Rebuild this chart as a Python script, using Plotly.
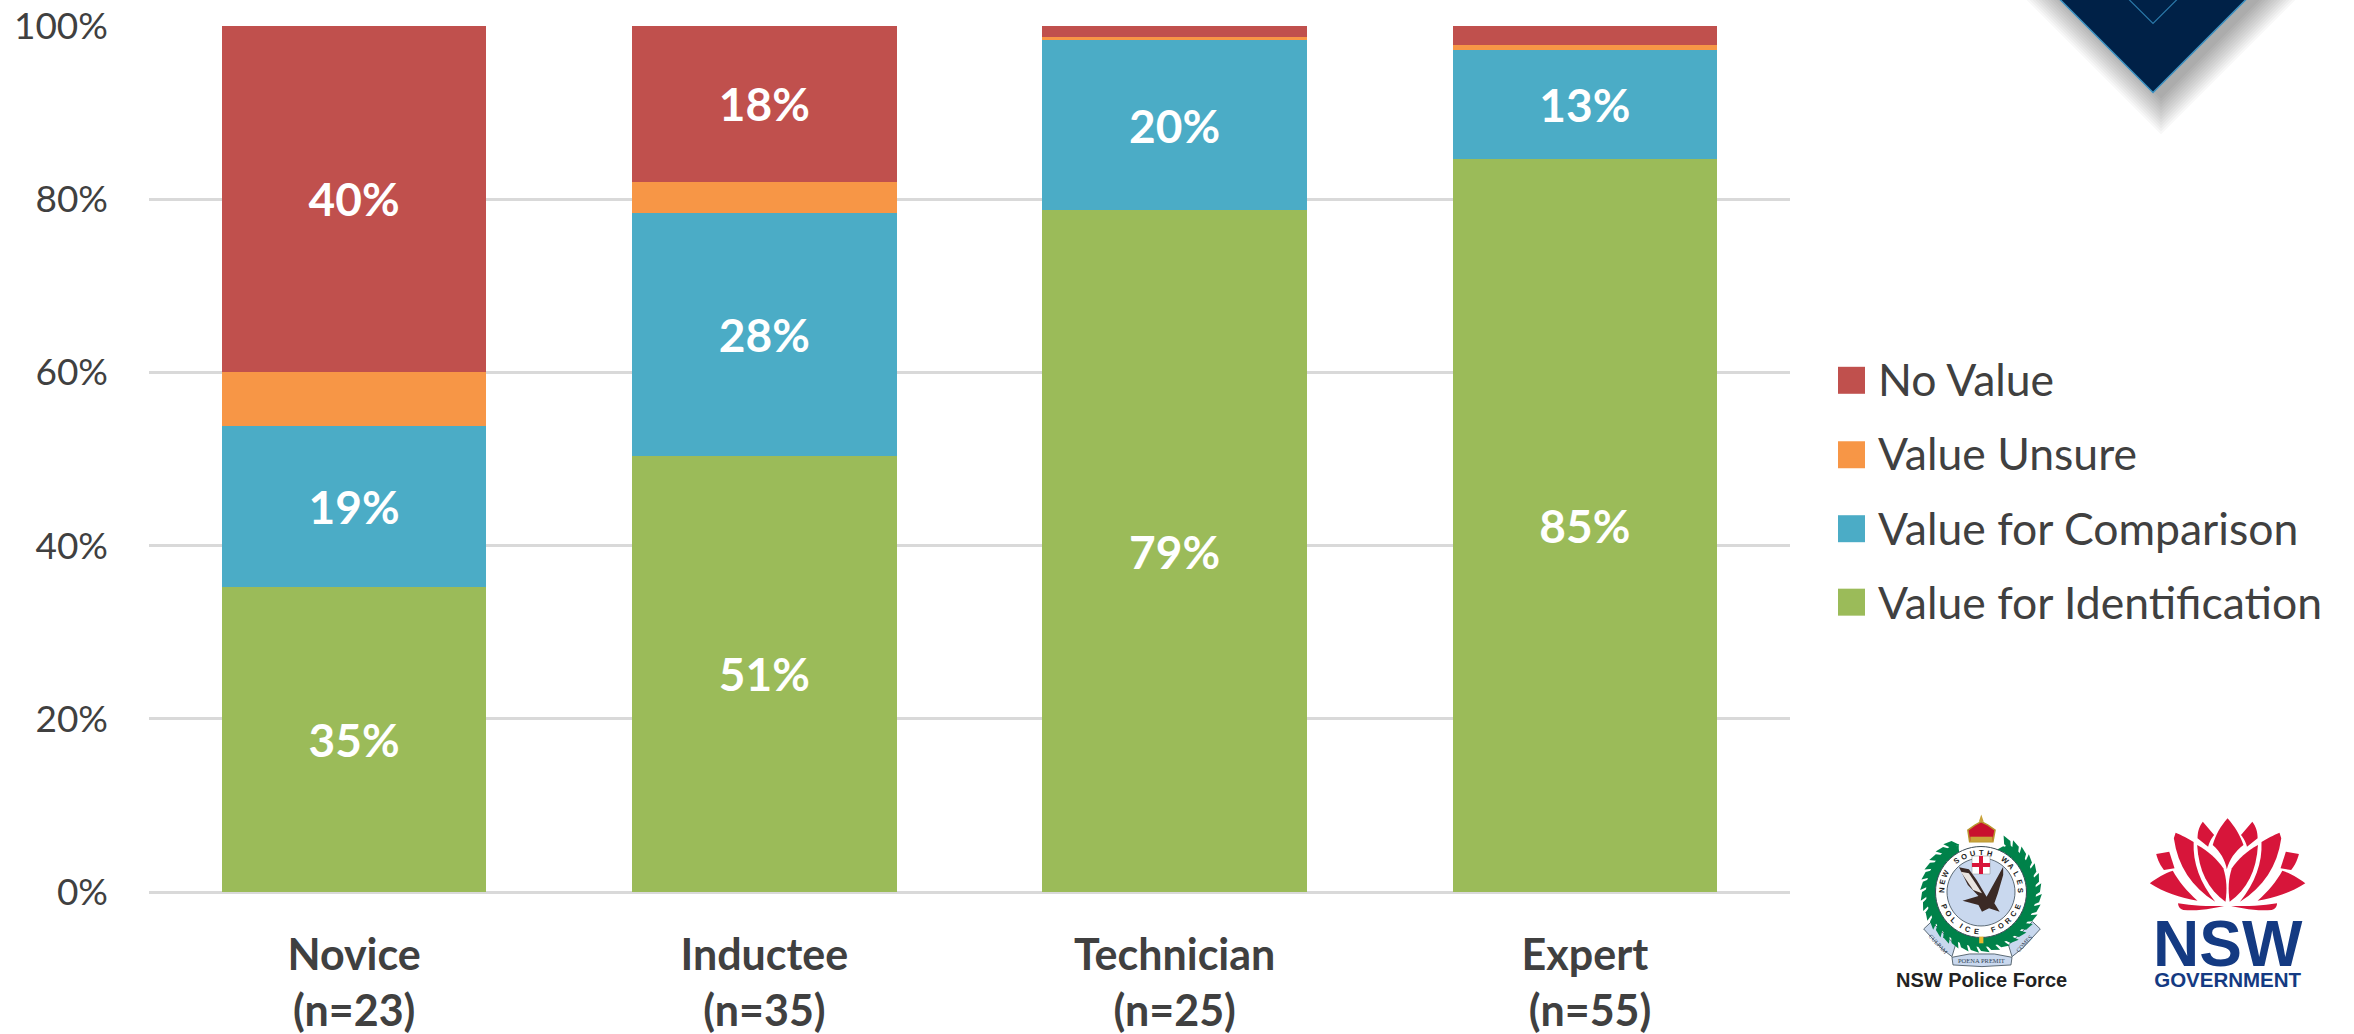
import math
import plotly.graph_objects as go

categories = ["Novice<br>(n=23)", "Inductee<br>(n=35)", "Technician<br>(n=25)", "Expert<br> (n=55)"]
identification = [35.2, 50.4, 78.7, 84.7]
comparison = [18.6, 28.0, 19.7, 12.5]
unsure = [6.3, 3.6, 0.3, 0.6]
no_value = [39.9, 18.0, 1.3, 2.2]
identification_labels = ["35%", "51%", "79%", "85%"]
comparison_labels = ["19%", "28%", "20%", "13%"]
unsure_labels = ["", "", "", ""]
no_value_labels = ["40%", "18%", "", ""]
y_ticks = [0, 20, 40, 60, 80, 100]
y_tick_labels = ["0%", "20%", "40%", "60%", "80%", "100%"]

GREEN, BLUE, ORANGE, RED = "#9BBB59", "#4BACC6", "#F79646", "#C0504D"
INK = "#404040"
W, H = 2354, 1034
L, R, T, B = 149, 1790, 25.5, 892


def px(x, y):
    return (x - L) / (R - L), (B - y) / (B - T)


def path(points, close=True):
    out = []
    for i, p in enumerate(points):
        a, b = px(*p)
        out.append(("M" if i == 0 else "L") + f"{a:.5f},{b:.5f}")
    return " ".join(out) + (" Z" if close else "")


def z(X, Y):
    """logo sketch coordinates to page pixels"""
    return 1800 + X / 2.83, 780 + Y / 3


def bez(pts, n=8):
    """points: start, then (ctrl, end) pairs; straight segment if ctrl is None"""
    out = [pts[0]]
    cur = pts[0]
    for c, e in pts[1:]:
        if c is None:
            out.append(e)
        else:
            for i in range(1, n + 1):
                t = i / n
                out.append(((1 - t) ** 2 * cur[0] + 2 * t * (1 - t) * c[0] + t * t * e[0],
                            (1 - t) ** 2 * cur[1] + 2 * t * (1 - t) * c[1] + t * t * e[1]))
        cur = e
    return out


shapes = []
annos = []


def poly(points, fill, line=None, lw=0, opacity=1, close=True):
    shapes.append(dict(type="path", xref="paper", yref="paper", path=path(points, close),
                       fillcolor=fill if close else "rgba(0,0,0,0)", opacity=opacity, layer="above",
                       line=dict(color=line or "rgba(0,0,0,0)", width=lw)))


def circle(cx, cy, r, fill, line=None, lw=0, ry=None):
    ry = ry or r
    pts = [(cx + r * math.cos(i * math.pi / 30), cy + ry * math.sin(i * math.pi / 30)) for i in range(60)]
    poly(pts, fill, line, lw)


def text(x, y, s, size, color, bold=False, angle=0, family="Liberation Sans"):
    a, b = px(x, y)
    annos.append(dict(xref="paper", yref="paper", x=a, y=b, text=f"<b>{s}</b>" if bold else s, showarrow=False,
                      xanchor="center", yanchor="middle", textangle=angle,
                      font=dict(family=family, size=size, color=color)))


# top badge with soft shadow
tip = (2153, 92)
for i in range(13, 0, -1):
    d = i * 3.0
    ax, ay = tip[0] + 8, tip[1] + 3 + d
    hw = ay + 5
    poly([(ax - hw, -5), (ax, ay), (ax + hw, -5)], "#000000", opacity=0.028)
poly([(tip[0] - 97, -5), tip, (tip[0] + 97, -5)], "#002147", line="#3E93C2", lw=1.5)
poly([(tip[0] - 28, -5), (tip[0], 23), (tip[0] + 28, -5)], "#002147", line="#2A78A8", lw=1.2)

# NSW Government waratah
CR = "#D7153A"
petals = [
    bez([(1140, 125), (None, (1172, 165)), ((1160, 180), (1155, 200)), (None, (1125, 175)), ((1125, 145), (1140, 125))]),
    bez([(1063, 158), ((1090, 170), (1114, 186)), ((1110, 280), (1175, 365)), ((1075, 300), (1058, 175)), (None, (1063, 158))]),
    bez([(1124, 195), ((1170, 222), (1198, 265)), ((1212, 310), (1204, 365)), ((1130, 310), (1124, 195))]),
    bez([(1008, 222), (None, (1045, 215)), (None, (1060, 265)), (None, (1030, 270)), ((1015, 250), (1008, 222))]),
    bez([(990, 310), ((1020, 285), (1055, 272)), ((1080, 320), (1125, 362)), ((1050, 350), (990, 310))]),
    bez([(1070, 370), ((1130, 380), (1200, 378)), ((1130, 395), (1085, 390)), ((1070, 385), (1070, 370))]),
]
for p in petals:
    poly([z(*q) for q in p], CR)
    poly([z(2420 - q[0], q[1]) for q in p], CR)
centre = bez([(1210, 115), ((1240, 150), (1255, 195)), ((1218, 225), (1208, 268)), ((1200, 225), (1168, 195)), ((1180, 150), (1210, 115))])
poly([z(*q) for q in centre], CR)
text(2228, 950, '<span style="font-size:64px">NSW</span><br><span style="font-size:20.5px">GOVERNMENT</span>',
     16, "#143A82", bold=True)

# NSW Police Force crest
cx, cy = 1981, 892
# scroll
for pts in ([(350, 447), (372, 425), (440, 495), (430, 530), (400, 505)],
            [(680, 447), (658, 425), (590, 495), (600, 530), (630, 505)],
            [(430, 532), (480, 522), (550, 522), (600, 532), (597, 555), (515, 560), (433, 555)]):
    poly([z(*q) for q in pts], "#C9D8EE", line="#3A4A55", lw=0.8)
# wreath: solid band with leaves on its rim
arc = [math.radians(d) for d in range(-62, 243, 4)]
poly([(cx + 55 * math.cos(a), cy + 55 * math.sin(a)) for a in arc] +
     [(cx + 46 * math.cos(a), cy + 46 * math.sin(a)) for a in reversed(arc)], "#00824A")
for deg in list(range(-62, 243, 10)):
    a = math.radians(deg)
    for rr, skew in ((56, 0.6), (48, -0.6)):
        c = (cx + rr * math.cos(a), cy + rr * math.sin(a))
        dirn = a + math.pi / 2 + skew
        ux, uy = math.cos(dirn), math.sin(dirn)
        nx, ny = -uy, ux
        poly([(c[0] - 8 * ux, c[1] - 8 * uy), (c[0] + 3.5 * nx, c[1] + 3.5 * ny), (c[0] + 8 * ux, c[1] + 8 * uy),
              (c[0] - 3.5 * nx, c[1] - 3.5 * ny)], "#00824A")
circle(cx, cy, 45.5, "#FFFFFF", line="#3A4A55", lw=1)
circle(cx, cy, 34, "#C9D8EE", line="#3A4A55", lw=0.8)
# top cross
poly([(cx - 9, 856), (cx + 9, 856), (cx + 9, 874), (cx - 9, 874)], "#FFFFFF", line="#888888", lw=0.5)
poly([(cx - 9, 863), (cx + 9, 863), (cx + 9, 867), (cx - 9, 867)], "#D7153A")
poly([(cx - 2, 856), (cx + 2, 856), (cx + 2, 874), (cx - 2, 874)], "#D7153A")
# eagle
poly([z(*q) for q in [(450, 262), (478, 268), (500, 300), (528, 350), (575, 260), (575, 285), (560, 340), (550, 370),
                      (565, 395), (535, 385), (515, 395), (505, 375), (460, 362), (505, 348), (475, 315)]], "#3B2A25")
poly([z(*q) for q in [(455, 275), (478, 280), (500, 315), (515, 340), (490, 330)]], "#E9E4DF")
# crown
poly([z(*q) for q in [(480, 185), (475, 150), (495, 135), (513, 125), (532, 135), (552, 150), (546, 185)]], "#C8102E", line="#B8962E", lw=1.5)
poly([z(*q) for q in [(506, 125), (513, 103), (520, 125)]], "#C9A33A")
poly([z(*q) for q in [(482, 170), (545, 170), (545, 185), (482, 185)]], "#C9A33A")
poly([z(*q) for q in [(507, 470), (519, 470), (519, 490), (507, 490)]], "#E8B830")


def arc_text(s, radius, mid_deg, step, flip=False):
    n = len(s)
    for i, ch in enumerate(s):
        if ch == " ":
            continue
        d = mid_deg + (i - (n - 1) / 2) * step * (-1 if flip else 1)
        a = math.radians(d)
        rot = d + 90 if not flip else d - 90
        text(cx + radius * math.cos(a), cy + radius * math.sin(a), ch, 7.5, "#222222", bold=True, angle=rot)


arc_text("NEW SOUTH WALES", 39.5, -90, 12.5)
arc_text("POLICE FORCE", 39.5, 90, 12.5, flip=True)
text(1981, 961, "POENA PREMIT", 6.5, "#334455", family="Liberation Serif")
text(1938, 944, "CULPAM", 6, "#334455", angle=47, family="Liberation Serif")
text(2024, 944, "COMES", 6, "#334455", angle=-47, family="Liberation Serif")
text(1981, 980, "NSW Police Force", 20, "#222222", bold=True)

fig = go.Figure()
series = [
    ("Value for Identification", identification, identification_labels, GREEN, 4),
    ("Value for Comparison", comparison, comparison_labels, BLUE, 3),
    ("Value Unsure", unsure, unsure_labels, ORANGE, 2),
    ("No Value", no_value, no_value_labels, RED, 1),
]
for name, vals, labels, col, rank in series:
    fig.add_trace(go.Bar(name=name, legendgroup=name, legendrank=rank, x=categories, y=vals, text=labels,
                         marker=dict(color=col, line=dict(width=0)),
                         textposition="inside", insidetextanchor="middle", textangle=0, constraintext="none",
                         insidetextfont=dict(family="Lato", size=46, color="white", weight="bold"), hoverinfo="name+y"))

# enlarged legend keys sitting under the legend's own keys
key_rows = {RED: 380, ORANGE: 454.5, BLUE: 528.5, GREEN: 602}
key_shapes = []
for col, yy in key_rows.items():
    a0, b0 = px(1838, yy - 13.5)
    a1, b1 = px(1865, yy + 13.5)
    key_shapes.append(dict(type="rect", xref="paper", yref="paper", x0=a0, x1=a1, y0=b0, y1=b1,
                           fillcolor=col, line=dict(width=0), layer="below"))

lx, ly = px(1828, 342.5)
fig.update_layout(
    width=W, height=H, autosize=False,
    margin=dict(l=L, r=W - R, t=T, b=H - B, pad=0),
    paper_bgcolor="white", plot_bgcolor="rgba(0,0,0,0)",
    barmode="stack", bargap=0.355,
    font=dict(family="Lato", color=INK),
    xaxis=dict(range=[-0.5, 3.5], automargin=False, showgrid=False, zeroline=False, showline=False, ticks="",
               ticklabelstandoff=34, tickangle=0, tickfont=dict(family="Lato", size=43, color=INK, weight="bold")),
    yaxis=dict(range=[0, 100], automargin=False, tickmode="array", tickvals=y_ticks, ticktext=y_tick_labels, ticks="", ticklabelstandoff=40,
               showgrid=True, gridcolor="#D9D9D9", gridwidth=2.5, zeroline=True, zerolinecolor="#D9D9D9", zerolinewidth=2.5,
               showline=False, tickfont=dict(family="Lato", size=37, color=INK)),
    legend=dict(x=lx, y=ly, xanchor="left", yanchor="top", traceorder="grouped", tracegroupgap=13.6,
                font=dict(family="Lato", size=44.5, color=INK), bgcolor="rgba(0,0,0,0)", itemwidth=40,
                itemclick=False, itemdoubleclick=False),
    shapes=key_shapes + shapes,
    annotations=annos,
    showlegend=True,
)

fig.write_html("out.html", config={"displayModeBar": False},
               post_script="document.body.style.margin='0';document.body.style.overflow='hidden';")
